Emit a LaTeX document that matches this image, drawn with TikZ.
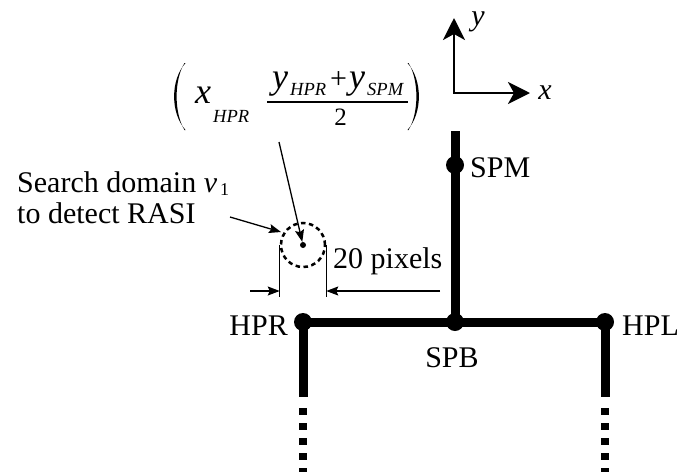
\documentclass[tikz,border=0pt]{standalone}
\usepackage{amsmath}
\usepackage{fontspec}
\setmainfont{Liberation Serif}
\usetikzlibrary{arrows.meta}
\begin{document}
\begin{tikzpicture}[x=1pt,y=-1pt,
  bone/.style={line width=9pt},
  dotbone/.style={line width=8pt,dash pattern=on 7pt off 8pt},
  joint/.style={circle,fill=black,inner sep=0pt,minimum size=18pt},
  lbl/.style={font=\fontsize{30}{31}\selectfont,inner sep=0pt},
  mbig/.style={font=\fontsize{36}{36}\selectfont\itshape,inner sep=0pt,anchor=base west},
  msub/.style={font=\fontsize{18.5}{18.5}\selectfont\itshape,inner sep=0pt,anchor=base west},
  thinline/.style={line width=1.3pt},
  thinarrow/.style={line width=1.3pt,-{Stealth[length=12pt,width=9pt,inset=2pt]}},
  axis/.style={line width=2.7pt,line join=miter,{Stealth[length=22pt,width=22pt,inset=6pt]}-{Stealth[length=22pt,width=22pt,inset=6pt]}}]
\useasboundingbox (0,0) rectangle (683,472);
% skeleton
\node[joint] (SPM) at (455,165) {};
\node[joint] (SPB) at (455,322) {};
\node[joint] (HPR) at (303,322) {};
\node[joint] (HPL) at (605,322) {};
\coordinate (top) at (455,131);
\coordinate (HPRe) at (303,397);
\coordinate (HPLe) at (605,397);
\coordinate (HPRd) at (303,408);
\coordinate (HPLd) at (605,408);
\coordinate (HPRb) at (303,472);
\coordinate (HPLb) at (605,472);
\draw[bone] (top) -- (SPM.center) -- (SPB.center);
\draw[bone] (HPR.center) -- (HPL.center);
\draw[bone] (HPR.center) -- (HPRe);
\draw[bone] (HPL.center) -- (HPLe);
\draw[dotbone] (HPRd) -- (HPRb);
\draw[dotbone] (HPLd) -- (HPLb);
% labels
\node[lbl,anchor=base west] (tSPM) at (470,177) {SPM};
\node[lbl,anchor=base east] (tHPR) at (288,335) {HPR};
\node[lbl,anchor=base west] (tHPL) at (622,335) {HPL};
\node[lbl,anchor=base] (tSPB) at (452,367) {SPB};
% axes
\coordinate (O) at (454,93);
\coordinate (Y) at (454,18);
\coordinate (X) at (530,93);
\draw[axis] (Y) -- (O) -- (X);
\node[lbl,font=\fontsize{30}{31}\selectfont\itshape] (ty) at (478,22) {y};
\node[lbl,font=\fontsize{30}{31}\selectfont\itshape] (tx) at (545,93) {x};
% formula
\fill (185.5,63) .. controls (170.3,80) and (170.3,113) .. (185.5,130)
  -- (184.5,130) .. controls (174,113) and (174,80) .. (184.5,63) -- cycle;
\fill (407.5,63) .. controls (422.7,80) and (422.7,113) .. (407.5,130)
  -- (408.5,130) .. controls (419,113) and (419,80) .. (408.5,63) -- cycle;
\node[mbig] (fx) at (195,103) {x};
\node[msub] (fxs) at (213,122) {HPR};
\node[mbig] (fy1) at (272,88) {y};
\node[msub] (fy1s) at (290,95) {HPR};
\node[font=\fontsize{30}{30}\selectfont,inner sep=0pt,anchor=base west] (fplus) at (330,88) {+};
\node[mbig] (fy2) at (349,88) {y};
\node[msub] (fy2s) at (367,95) {SPM};
\node[font=\fontsize{25}{25}\selectfont,inner sep=0pt,anchor=base] (f2) at (340.5,125) {2};
\coordinate (barl) at (267,102);
\coordinate (barr) at (408,102);
\draw[line width=1.3pt] (barl) -- (barr);
% search domain
\node[circle,draw,line width=2.5pt,dash pattern=on 4.5pt off 3.5pt,minimum size=44pt,inner sep=0pt] (dom) at (303,245) {};
\node[circle,fill=black,minimum size=6pt,inner sep=0pt] (ctr) at (303,245) {};
\coordinate (fa) at (279,142);
\draw[thinarrow] (fa) -- (ctr);
\node[lbl,anchor=base west] (s1) at (17,192) {Search domain \textit{v}\raisebox{-3pt}{\fontsize{18}{18}\selectfont\,1}};
\node[lbl,anchor=base west] (s2) at (17,223) {to detect RASI};
\coordinate (sa) at (230,217);
\coordinate (sb) at (281,232);
\draw[thinarrow] (sa) -- (sb);
% dimension
\draw[thinline] (dom.west) -- ++(0,52);
\draw[thinline] (dom.east) -- ++(0,52);
\coordinate (dl) at (250,291);
\coordinate (dr) at (440,291);
\draw[thinarrow] (dl) -- (dl -| dom.west);
\draw[thinarrow] (dr) -- (dr -| dom.east);
\node[lbl,anchor=base west] (t20) at (333,268) {20 pixels};
\end{tikzpicture}
\end{document}
